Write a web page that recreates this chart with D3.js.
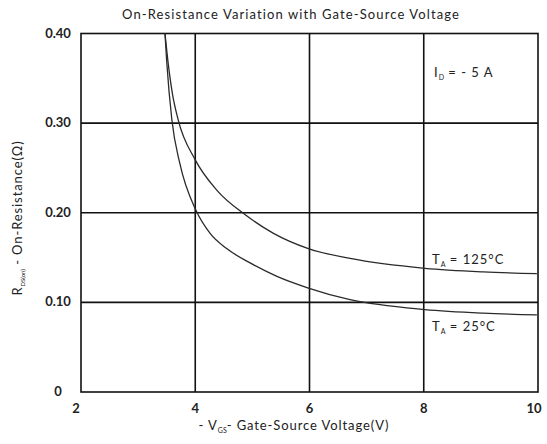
<!DOCTYPE html>
<html>
<head>
<meta charset="utf-8">
<script src="https://cdnjs.cloudflare.com/ajax/libs/d3/7.8.5/d3.min.js"></script>
<style>
  body { margin: 0; background: #fff; }
  text { font-family: Lato, 'Open Sans', sans-serif; fill: #222; }
</style>
</head>
<body>
<script>
'use strict';

// Gate voltage (V) and on-resistance (ohm)
const vgs25  = [3.47, 3.50, 3.59, 3.73, 4.01, 4.26, 4.55, 4.96, 5.43, 5.98, 6.71, 8.02, 9.04, 9.98];
const rds25  = [0.400, 0.369, 0.304, 0.255, 0.203, 0.177, 0.160, 0.144, 0.129, 0.116, 0.103, 0.092, 0.088, 0.086];
const vgs125 = [3.47, 3.52, 3.60, 3.70, 4.00, 4.38, 4.87, 5.37, 5.98, 6.71, 8.02, 9.04, 9.98];
const rds125 = [0.400, 0.370, 0.333, 0.304, 0.259, 0.225, 0.198, 0.177, 0.160, 0.149, 0.138, 0.134, 0.132];
const xTicks = [2, 4, 6, 8, 10];
const yTicks = [0, 0.10, 0.20, 0.30, 0.40];

const W = 547, H = 444;
const M = { left: 81, top: 33.5, right: 9, bottom: 52 };

let svg = d3.select('body').append('svg').attr('width', W).attr('height', H);

let x = d3.scaleLinear().domain([2, 10]).range([M.left, W - M.right]);
let y = d3.scaleLinear().domain([0, 0.40]).range([H - M.bottom, M.top]);

// grid
svg.append('g').selectAll('line').data(xTicks.slice(1, -1)).enter().append('line')
	.attr('x1', d => x(d)).attr('x2', d => x(d))
	.attr('y1', y(0)).attr('y2', y(0.40))
	.attr('stroke', '#111').attr('stroke-width', 1.6);
svg.append('g').selectAll('line').data(yTicks.slice(1, -1)).enter().append('line')
	.attr('x1', x(2)).attr('x2', x(10))
	.attr('y1', d => y(d)).attr('y2', d => y(d))
	.attr('stroke', '#111').attr('stroke-width', 1.6);

svg.append('rect')
	.attr('x', x(2)).attr('y', y(0.40))
	.attr('width', x(10) - x(2)).attr('height', y(0) - y(0.40))
	.attr('fill', 'none').attr('stroke', '#111').attr('stroke-width', 1.6);

// tick labels
svg.append('g').selectAll('text').data(yTicks).enter().append('text')
	.attr('x', 58).attr('y', d => y(d) + 4)
	.attr('text-anchor', 'middle')
	.style('font-size', '13px').style('font-weight', 'bold')
	.text(d => d === 0 ? '0' : d3.format('.2f')(d));
svg.append('g').selectAll('text').data(xTicks).enter().append('text')
	.attr('x', d => x(d) - (d === 2 ? 5 : d === 10 ? 4 : 0)).attr('y', y(0) + 21)
	.attr('text-anchor', 'middle')
	.style('font-size', '13px').style('font-weight', 'bold')
	.text(d => d);

// curves
let line = d3.line().curve(d3.curveMonotoneX).x(d => x(d[0])).y(d => y(d[1]));
[[vgs25, rds25], [vgs125, rds125]].forEach(s => {
	svg.append('path')
		.datum(d3.zip(s[0], s[1]))
		.attr('d', line)
		.attr('fill', 'none').attr('stroke', '#2a2a2a').attr('stroke-width', 1.3);
});

// titles and notes
svg.append('text').attr('x', 291).attr('y', 19).attr('text-anchor', 'middle')
	.style('font-size', '13px').style('letter-spacing', '1.1px')
	.text('On-Resistance Variation with Gate-Source Voltage');

let xl = svg.append('text').attr('x', 294).attr('y', 430).attr('text-anchor', 'middle')
	.style('font-size', '13px').style('letter-spacing', '0.9px');
xl.append('tspan').text('- V');
xl.append('tspan').attr('dy', 3).style('font-size', '7px').style('letter-spacing', '0px').text('GS');
xl.append('tspan').attr('dy', -3).text('- Gate-Source Voltage(V)');

let yl = svg.append('text').attr('transform', 'translate(22, 218) rotate(-90)')
	.attr('text-anchor', 'middle').style('font-size', '13px').style('letter-spacing', '0.9px');
yl.append('tspan').text('R');
yl.append('tspan').attr('dy', 3).style('font-size', '6px').style('letter-spacing', '0px').text('DS(on)');
yl.append('tspan').attr('dy', -3).text(' - On-Resistance(\u03A9)');

function note(px, py, main, sub, rest) {
	let t = svg.append('text').attr('x', px).attr('y', py)
		.style('font-size', '13px').style('letter-spacing', '1px');
	t.append('tspan').text(main);
	t.append('tspan').attr('dy', 3).style('font-size', '7px').style('letter-spacing', '0px').text(sub);
	t.append('tspan').attr('dy', -3).text(rest);
}
note(434, 77, 'I', 'D', ' = - 5 A');
note(432, 264, 'T', 'A', ' = 125\u00B0C');
note(432, 331, 'T', 'A', ' = 25\u00B0C');
</script>
</body>
</html>
